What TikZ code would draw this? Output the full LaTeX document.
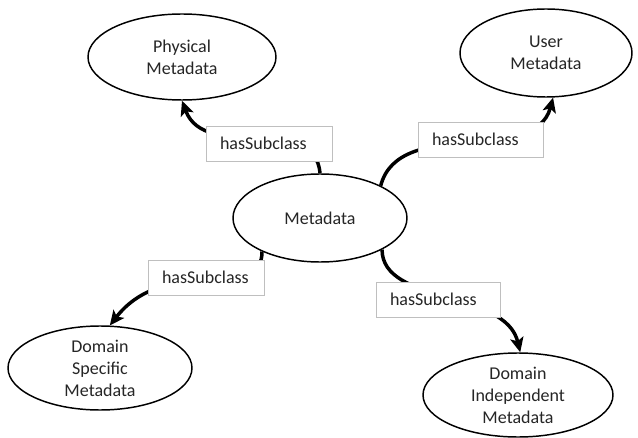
\documentclass[tikz,border=0pt]{standalone}
\usepackage{fontspec}
\setmainfont{Carlito}
\usetikzlibrary{shapes.geometric,arrows.meta}
\begin{document}
\begin{tikzpicture}[x=0.75pt,y=-0.75pt,
  cls/.style={ellipse,draw=black,line width=1.1pt,fill=white,inner sep=0pt,align=center,
    font=\fontsize{13.5}{16.5}\selectfont,text=black!85},
  rel/.style={-{Stealth[length=11pt,width=10pt,inset=2.5pt]},line width=2.6pt},
  lbl/.style={draw=black!25,line width=0.6pt,fill=white,minimum height=26.25pt,inner xsep=10.5pt,
    inner ysep=0pt,align=left,font=\fontsize{13.5}{16.5}\selectfont,text=black!85}]
\useasboundingbox (0,0) rectangle (638,438);
% classes
\node[cls,minimum width=130.5pt,minimum height=66pt] (meta) at (320,218) {Metadata};
\node[cls,minimum width=141pt,minimum height=64.5pt] (phys) at (182,57) {Physical\\Metadata};
\node[cls,minimum width=129pt,minimum height=66pt] (user) at (546,53) {User\\Metadata};
\node[cls,minimum width=138pt,minimum height=63pt] (ds) at (100,368) {Domain\\Specific\\Metadata};
\node[cls,minimum width=142.5pt,minimum height=63pt] (di) at (518,395) {Domain\\Independent\\Metadata};
% connectors
\draw[rel] (meta.north) .. controls +(-5,-61) and +(23,62) .. (phys.south);
\draw[rel] (meta.28) .. controls +(18,-70) and +(-18,68) .. (user.-81);
\draw[rel] (meta.210) .. controls +(2,47) and +(55,-71) .. (ds.77);
\draw[rel] (meta.333) .. controls +(0,55) and +(-15,-63) .. (di.87);
% labels
\node[lbl,text width=73.5pt] (l1) at (269,143.5) {hasSubclass};
\node[lbl,text width=72.75pt] (l2) at (480.5,139.5) {hasSubclass};
\node[lbl,text width=66pt] (l3) at (206,277.5) {hasSubclass};
\node[lbl,text width=72pt] (l4) at (438,299.5) {hasSubclass};
\end{tikzpicture}
\end{document}
